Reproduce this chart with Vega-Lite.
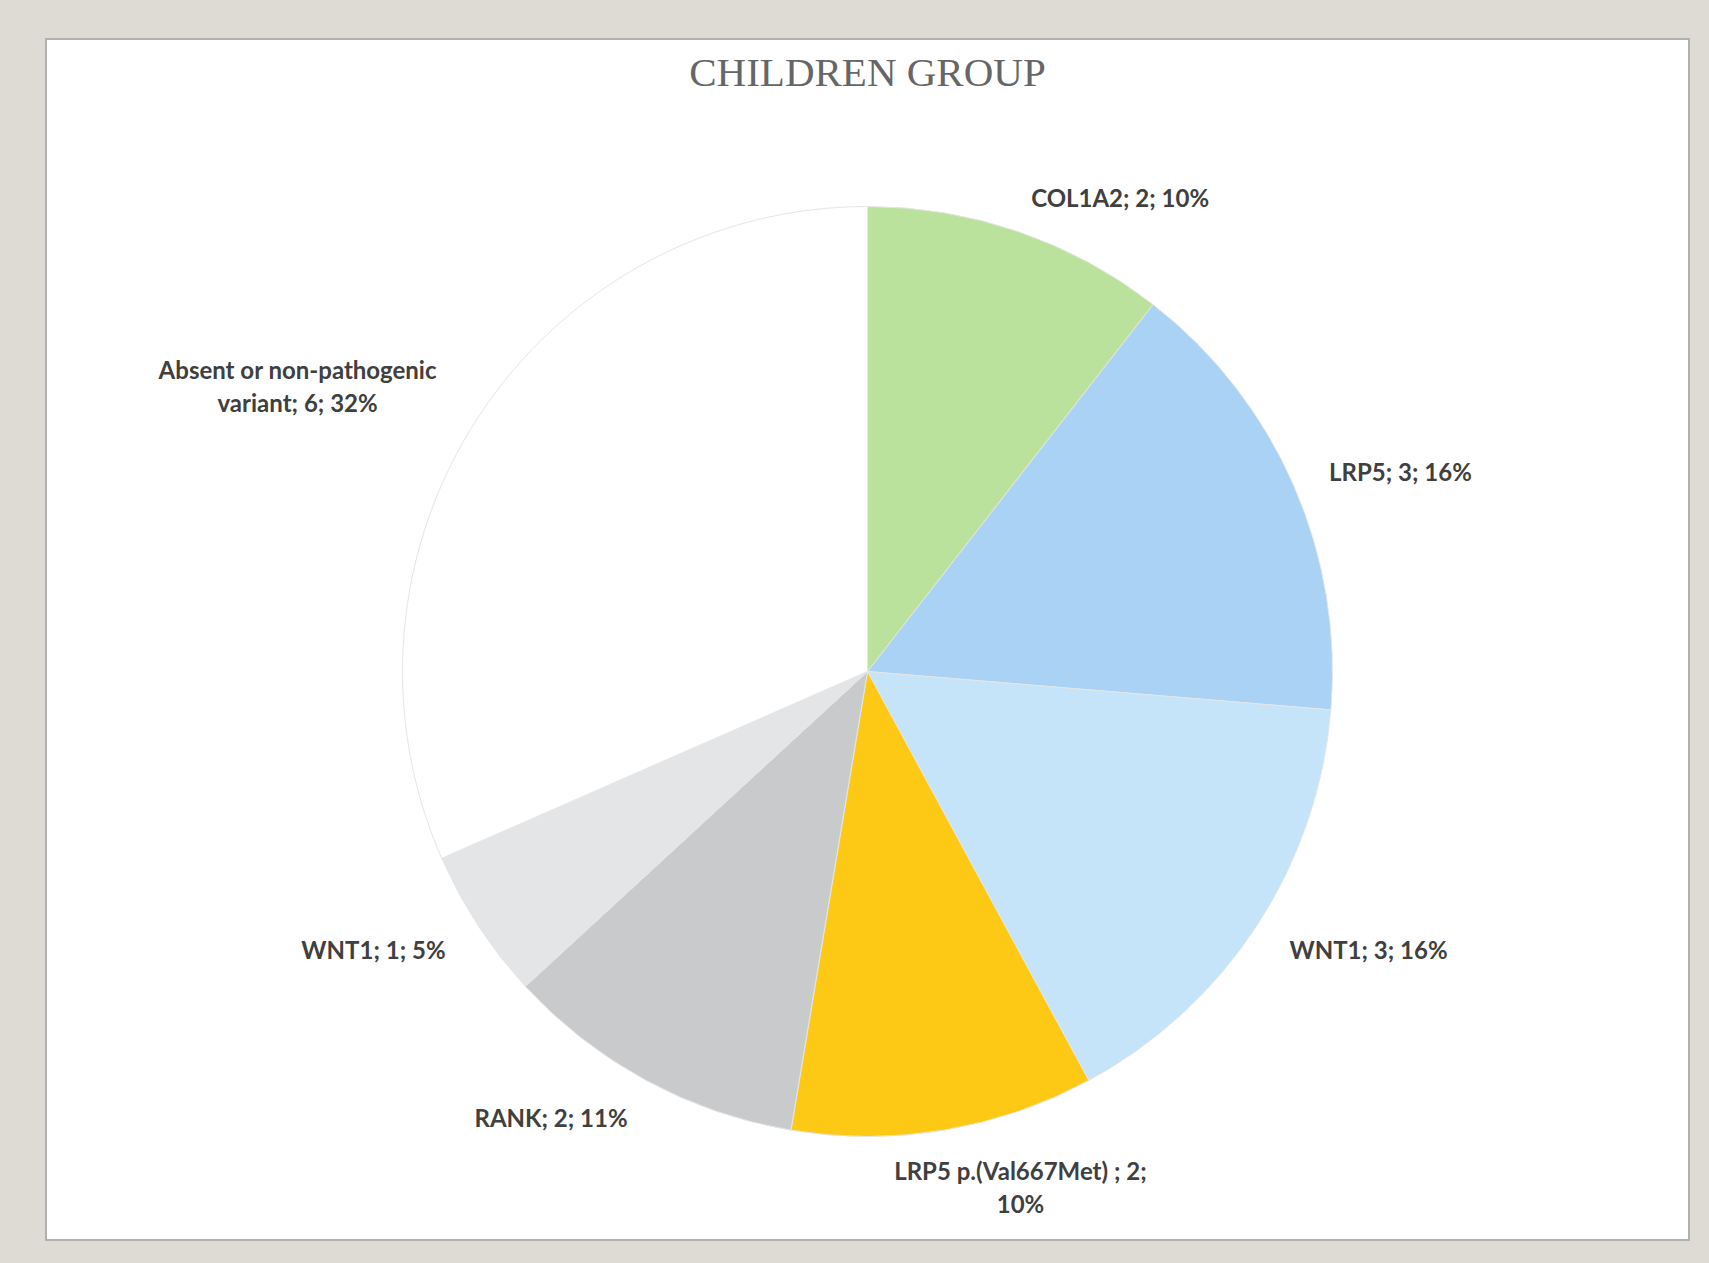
{
  "$schema": "https://vega.github.io/schema/vega-lite/v6.json",
  "width": 1643,
  "height": 1201,
  "autosize": {"type": "none"},
  "padding": {"left": 46, "top": 39, "right": 20, "bottom": 23},
  "background": "#dddbd4",
  "view": {"fill": "#ffffff", "stroke": "#b0b0b0", "strokeWidth": 2},
  "title": {
    "text": "CHILDREN GROUP",
    "font": "Liberation Serif",
    "fontSize": 41,
    "fontWeight": "normal",
    "color": "#666666",
    "offset": -56,
    "anchor": "middle"
  },
  "data": {
    "values": [
      {"idx": 1, "label": "COL1A2; 2; 10%", "count": 2},
      {"idx": 2, "label": "LRP5; 3; 16%", "count": 3},
      {"idx": 3, "label": "WNT1; 3; 16%", "count": 3},
      {"idx": 4, "label": "LRP5 p.(Val667Met) ; 2;\n10%", "count": 2},
      {"idx": 5, "label": "RANK; 2; 11%", "count": 2},
      {"idx": 6, "label": "WNT1; 1; 5%", "count": 1},
      {"idx": 7, "label": "Absent or non-pathogenic\nvariant; 6; 32%", "count": 6}
    ]
  },
  "layer": [
    {
      "mark": {"type": "arc", "outerRadius": 465, "stroke": "#e6e6e6", "strokeWidth": 1, "yOffset": 32},
      "encoding": {
        "theta": {"field": "count", "type": "quantitative", "stack": true},
        "order": {"field": "idx", "type": "quantitative"},
        "color": {
          "field": "label",
          "type": "nominal",
          "scale": {
            "domain": ["COL1A2; 2; 10%", "LRP5; 3; 16%", "WNT1; 3; 16%", "LRP5 p.(Val667Met) ; 2;\n10%", "RANK; 2; 11%", "WNT1; 1; 5%", "Absent or non-pathogenic\nvariant; 6; 32%"],
            "range": ["#bae29c", "#a9d2f5", "#c5e3f9", "#fec914", "#c9cacc", "#e4e5e7", "#ffffff"]
          },
          "legend": null
        }
      }
    },
    {
      "mark": {"type": "text", "radius": 504, "yOffset": 37, "align": "left", "font": "Lato", "fontWeight": "bold", "fontSize": 24, "color": "#404040", "lineBreak": "\n", "lineHeight": 33},
      "encoding": {
        "theta": {"field": "count", "type": "quantitative", "stack": true},
        "order": {"field": "idx", "type": "quantitative"},
        "text": {"field": "label", "type": "nominal"},
        "opacity": {"condition": {"test": "datum.idx <= 3", "value": 1}, "value": 0}
      }
    },
    {
      "mark": {"type": "text", "radius": 504, "yOffset": 32, "dx": 70, "dy": 4, "align": "center", "font": "Lato", "fontWeight": "bold", "fontSize": 24, "color": "#404040", "lineBreak": "\n", "lineHeight": 33},
      "encoding": {
        "theta": {"field": "count", "type": "quantitative", "stack": true},
        "order": {"field": "idx", "type": "quantitative"},
        "text": {"field": "label", "type": "nominal"},
        "opacity": {"condition": {"test": "datum.idx === 4", "value": 1}, "value": 0}
      }
    },
    {
      "mark": {"type": "text", "radius": 504, "yOffset": 37, "align": "right", "font": "Lato", "fontWeight": "bold", "fontSize": 24, "color": "#404040", "lineBreak": "\n", "lineHeight": 33},
      "encoding": {
        "theta": {"field": "count", "type": "quantitative", "stack": true},
        "order": {"field": "idx", "type": "quantitative"},
        "text": {"field": "label", "type": "nominal"},
        "opacity": {"condition": {"test": "datum.idx === 5 || datum.idx === 6", "value": 1}, "value": 0}
      }
    },
    {
      "mark": {"type": "text", "radius": 504, "yOffset": 32, "dx": -148, "dy": -24, "align": "center", "font": "Lato", "fontWeight": "bold", "fontSize": 24, "color": "#404040", "lineBreak": "\n", "lineHeight": 33},
      "encoding": {
        "theta": {"field": "count", "type": "quantitative", "stack": true},
        "order": {"field": "idx", "type": "quantitative"},
        "text": {"field": "label", "type": "nominal"},
        "opacity": {"condition": {"test": "datum.idx === 7", "value": 1}, "value": 0}
      }
    }
  ]
}
